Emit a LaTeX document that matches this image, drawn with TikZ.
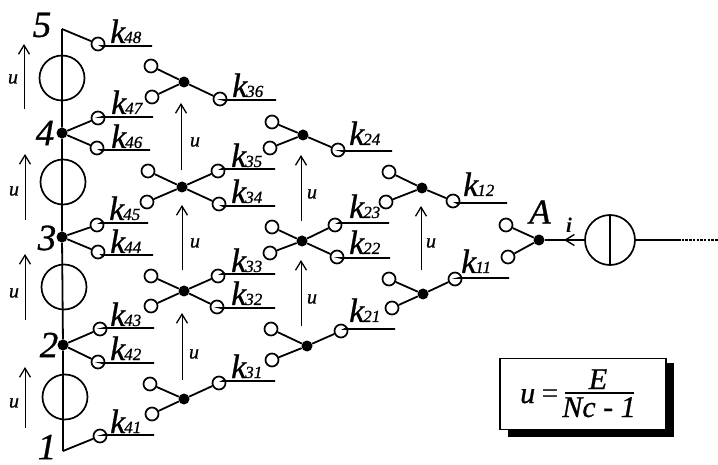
\documentclass[tikz,border=0pt]{standalone}
\usepackage{fontspec}
\setmainfont{Liberation Serif}[ItalicFeatures={FakeBold=0.8}]
\usetikzlibrary{arrows.meta}
\newcommand{\kl}[2]{{\fontsize{34}{34}\selectfont\itshape k}\kern-1pt{\fontsize{17}{17}\selectfont\itshape #1#2}}
\tikzset{
 x=1pt,y=-1pt,
 wire/.style={line width=1.8pt,black},
 term/.style={circle,draw=black,line width=1.7pt,fill=white,minimum size=13pt,inner sep=0pt},
 hub/.style={circle,fill=black,minimum size=11pt,inner sep=0pt},
 src/.style={circle,draw=black,line width=1.7pt,minimum size=45pt,inner sep=0pt},
 volt/.style={line width=0.8pt,-{Straight Barb[length=9pt,width=11pt,line width=1.3pt]}},
 ulab/.style={inner sep=0pt,font=\fontsize{20}{20}\selectfont\itshape},
 klab/.style={anchor=base west,inner sep=0pt},
 numlab/.style={inner sep=0pt,font=\fontsize{37}{37}\selectfont\itshape},
}
\begin{document}
\begin{tikzpicture}
\useasboundingbox (0,0) rectangle (718,465);
% bus
\coordinate (t5) at (62,29);
\coordinate (t1) at (63,451);
\node[hub] (n4) at (62,133) {};
\node[hub] (n3) at (62,237) {};
\node[hub] (n2) at (63,345) {};
\draw[wire] (t5) -- (n4) -- (n3) -- (n2) -- (t1);
% sources on the bus
\node[src] (s1) at (62,78) {};
\node[src] (s2) at (63,182) {};
\node[src] (s3) at (64,287) {};
\node[src] (s4) at (65,397) {};
% terminals on the bus
\foreach \n/\x/\y/\e/\f/\a/\b in {
 k48/98/44/152/46/t5/4,
 k47/98/118/153/117/n4/7,
 k46/97/148/150/150/n4/6,
 k45/97/225/148/223/n3/5,
 k44/98/252/153/255/n3/4,
 k43/100/329/154/328/n2/3,
 k42/98/362/154/363/n2/2,
 k41/100/436/154/435/t1/1}{
  \node[term] (\n) at (\x,\y) {};
  \coordinate (\n e) at (\e,\f);
  \draw[wire] (\a) -- (\n);
  \draw[wire] (\n) -- (\x+4,\f) -- (\n e);
}
\node[klab] at (110,43) {\kl{4}{8}};
\node[klab] at (111,114) {\kl{4}{7}};
\node[klab] at (111,148) {\kl{4}{6}};
\node[klab] at (109,220) {\kl{4}{5}};
\node[klab] at (110,253) {\kl{4}{4}};
\node[klab] at (110,326) {\kl{4}{3}};
\node[klab] at (110,360) {\kl{4}{2}};
\node[klab] at (110,433) {\kl{4}{1}};
% switches: hub, two left terminals
\foreach \h/\x/\y/\ax/\ay/\bx/\by in {
 h36/184/82/151/66/152/97,
 h35/182/187/148/171/147/202,
 h33/184/291/151/276/151/306,
 h31/184/399/150/384/152/414,
 h24/303/135/272/122/270/148,
 h23/302/241/272/227/270/253,
 h21/307/346/271/329/272/360,
 h12/422/188/389/172/386/202,
 h11/423/294/389/279/392/308,
 hA/539/240/506/225/508/257}{
  \node[hub] (\h) at (\x,\y) {};
  \node[term] (\h a) at (\ax,\ay) {};
  \node[term] (\h b) at (\bx,\by) {};
  \draw[wire] (\h) -- (\h a);
  \draw[wire] (\h) -- (\h b);
}
% output terminals
\foreach \n/\h/\x/\y/\e/\f in {
 k36/h36/220/99/276/100,
 k35/h35/218/171/275/169,
 k34/h35/219/204/275/206,
 k33/h33/218/276/275/274,
 k32/h33/217/307/275/308,
 k31/h31/219/383/275/381,
 k24/h24/338/150/392/151,
 k23/h23/335/225/389/223,
 k22/h23/337/257/390/258,
 k21/h21/341/331/395/329,
 k12/h12/453/201/507/203,
 k11/h11/455/279/509/278}{
  \node[term] (\n) at (\x,\y) {};
  \coordinate (\n e) at (\e,\f);
  \draw[wire] (\h) -- (\n);
  \draw[wire] (\n) -- (\x+4,\f) -- (\n e);
}
\node[klab] at (232,97) {\kl{3}{6}};
\node[klab] at (231,167) {\kl{3}{5}};
\node[klab] at (231,203) {\kl{3}{4}};
\node[klab] at (231,272) {\kl{3}{3}};
\node[klab] at (231,305) {\kl{3}{2}};
\node[klab] at (231,378) {\kl{3}{1}};
\node[klab] at (349,145) {\kl{2}{4}};
\node[klab] at (349,218) {\kl{2}{3}};
\node[klab] at (349,254) {\kl{2}{2}};
\node[klab] at (349,322) {\kl{2}{1}};
\node[klab] at (463,196) {\kl{1}{2}};
\node[klab] at (461,273) {\kl{1}{1}};
% voltage arrows
\foreach \i/\x/\a/\b/\lx/\ly in {
 1/24/109/44/13/79,
 2/25/220/154/14/191,
 3/25/320/254/14/293,
 4/25/428/367/14/403,
 5/181/170/103/195/142,
 6/182/270/205/195/243,
 7/182/380/313/194/354,
 8/301/221/155/312/194,
 9/301/326/260/312/299,
 10/421/270/206/431/243}{
  \coordinate (ua\i) at (\x,\a);
  \coordinate (ub\i) at (\x,\b);
  \draw[volt] (ua\i) -- (ub\i);
  \node[ulab] at (\lx,\ly) {u};
}
% node numbers
\node[numlab] at (42,25) {5};
\node[numlab] at (45,133) {4};
\node[numlab] at (47,238) {3};
\node[numlab] at (49,345) {2};
\node[numlab] at (47,447) {1};
% input
\node[src,minimum size=50pt] (inp) at (610,240) {};
\draw[wire] (inp.north) -- (inp.south);
\coordinate (dotstart) at (678,240);
\coordinate (dotend) at (718,240);
\draw[wire,-{Straight Barb[length=9pt,width=11pt,line width=1.4pt]}] (inp.west) -- (564,240);
\draw[wire] (568,240) -- (hA);
\draw[line width=2.2pt] (inp.east) -- (dotstart);
\draw[line width=1.4pt,dash pattern=on 2.5pt off 1.2pt] (dotstart) -- (dotend);
\node[inner sep=0pt,font=\fontsize{21}{21}\selectfont\itshape\bfseries] at (569,225) {i};
\node[inner sep=0pt,font=\fontsize{35}{35}\selectfont\itshape] at (540,212) {A};
% formula box
\fill[black] (508,363) rectangle (674,437);
\node[draw=black,line width=1.2pt,fill=white,minimum width=166pt,minimum height=71pt,inner sep=0pt] (box) at (583,394) {};
\node[inner sep=0pt,anchor=base west] at (520,403) {\fontsize{30}{30}\selectfont\itshape u};
\node[inner sep=0pt,anchor=base] at (550,403) {\fontsize{30}{30}\selectfont =};
\coordinate (fl) at (565,393);
\coordinate (fr) at (634,393);
\draw[line width=1.4pt] (fl) -- (fr);
\node[inner sep=0pt,anchor=base] at (598,389) {\fontsize{30}{30}\selectfont\itshape E};
\node[inner sep=0pt,anchor=base] at (599,417) {\fontsize{30}{30}\selectfont\itshape Nc - 1};
\end{tikzpicture}
\end{document}
